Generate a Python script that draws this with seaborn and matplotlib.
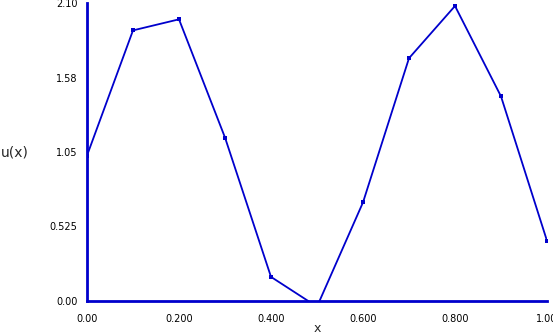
import matplotlib
matplotlib.use("Agg")
import matplotlib.pyplot as plt
import seaborn as sns
import pandas as pd

x_vals = [0.0, 0.1, 0.2, 0.3, 0.4, 0.5, 0.6, 0.7, 0.8, 0.9, 1.0]
u_vals = [1.025, 1.907, 1.985, 1.152, 0.17, -0.04, 0.695, 1.711, 2.079, 1.442, 0.424]
x_ticks = [0.0, 0.2, 0.4, 0.6, 0.8, 1.0]
x_tick_labels = ["0.00", "0.200", "0.400", "0.600", "0.800", "1.00"]
y_ticks = [0.0, 0.525, 1.05, 1.575, 2.1]
y_tick_labels = ["0.00", "0.525", "1.05", "1.58", "2.10"]

sns.set_style("white")
plt.rcParams['font.family'] = ['DejaVu Sans']

blue = "#0000CC"
df = pd.DataFrame({"x": x_vals, "u": u_vals})

fig = plt.figure(figsize=(5.53, 3.35), dpi=100)
ax = fig.add_axes([87 / 553, (335 - 301) / 335, (547 - 87) / 553, (301 - 3) / 335])
sns.lineplot(data=df, x="x", y="u", ax=ax, color=blue, linewidth=1.3,
             marker="s", markersize=3, markeredgewidth=0, markerfacecolor=blue)

ax.set_xlim(0, 1)
ax.set_ylim(0, 2.1)
ax.set_xticks(x_ticks)
ax.set_xticklabels(x_tick_labels)
ax.set_yticks(y_ticks)
ax.set_yticklabels(y_tick_labels)

for s in ["top", "right"]:
    ax.spines[s].set_visible(False)
for s in ["left", "bottom"]:
    ax.spines[s].set_color(blue)
    ax.spines[s].set_linewidth(2)

ax.tick_params(axis="both", which="major", length=4, width=2, color=blue,
               labelsize=7, labelcolor="black", direction="out", pad=3)
ax.tick_params(axis="x", pad=5)

ax.set_xlabel("")
ax.set_ylabel("")
fig.text(317 / 553, 1 - 329 / 335, "x", ha="center", va="center", fontsize=9)
fig.text(1 / 553, 1 - 152 / 335, "u(x)", ha="left", va="center", fontsize=10)

fig.savefig("out.png", dpi=100)
